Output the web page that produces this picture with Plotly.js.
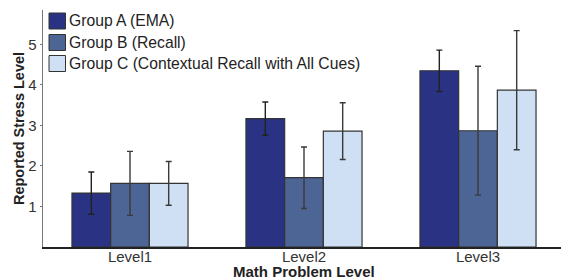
<!DOCTYPE html>
<html>
<head>
<meta charset="utf-8">
<script src="https://cdn.plot.ly/plotly-3.0.1.min.js"></script>
<style>html,body{margin:0;padding:0;background:#fff;}#chart{width:561px;height:280px;}</style>
</head>
<body>
<div id="chart"></div>
<script>
var categories = ['Level1', 'Level2', 'Level3'];
var groupNames = ['Group A (EMA)', 'Group B (Recall)', 'Group C (Contextual Recall with All Cues)'];
var groupA = [1.33, 3.17, 4.35];
var groupB = [1.57, 1.71, 2.87];
var groupC = [1.57, 2.86, 3.87];
var errA = [0.52, 0.41, 0.51];
var errB = [0.79, 0.76, 1.59];
var errC = [0.54, 0.70, 1.47];
var colors = ['#2a3383', '#4c6595', '#cfe0f4'];
var errColors = ['#222222', '#3a3a3a', '#3a3a3a'];

var W = 561, H = 280;
var M = {l: 43, r: 0, t: 10, b: 33};
var pw = W - M.l - M.r, ph = H - M.t - M.b;
function px2x(px) { return (px - M.l) / pw; }
function py2y(py) { return (H - M.b - py) / ph; }

var vals = [groupA, groupB, groupC];
var errs = [errA, errB, errC];
var traces = vals.map(function (v, i) {
  return {
    type: 'bar',
    name: groupNames[i],
    x: categories,
    y: v,
    showlegend: false,
    marker: {color: colors[i], line: {color: '#333333', width: 1.2}},
    error_y: {type: 'data', array: errs[i], visible: true, color: errColors[i], thickness: 1.4, width: 3}
  };
});

// custom legend (larger swatches, tight text gap like the reference)
var legendRowY = [21, 42.5, 63.5];
var shapes = [], annotations = [];
groupNames.forEach(function (name, i) {
  var cy = legendRowY[i];
  shapes.push({
    type: 'rect', xref: 'paper', yref: 'paper',
    x0: px2x(49), x1: px2x(65.5), y0: py2y(cy + 8), y1: py2y(cy - 8),
    fillcolor: colors[i], line: {color: '#333333', width: 1}
  });
  annotations.push({
    xref: 'paper', yref: 'paper', x: px2x(66.5), y: py2y(cy),
    xanchor: 'left', yanchor: 'middle', showarrow: false,
    text: name, font: {size: 15.7, color: '#222222'}
  });
});

// x-axis title placed as a paper annotation at the very bottom
annotations.push({
  xref: 'paper', yref: 'paper', x: px2x(304), y: py2y(281),
  xanchor: 'center', yanchor: 'bottom', showarrow: false,
  text: '<b>Math Problem Level</b>', font: {size: 15, color: '#222222'},
  borderpad: 0
});

var layout = {
  width: W, height: H,
  margin: M,
  paper_bgcolor: '#ffffff', plot_bgcolor: '#ffffff',
  font: {family: 'Liberation Sans, Arial, sans-serif', size: 14, color: '#333333'},
  barmode: 'group', bargap: 0.333, bargroupgap: 0,
  showlegend: false,
  shapes: shapes,
  annotations: annotations,
  xaxis: {
    range: [-0.5, 2.477], showline: true, linecolor: '#222222', linewidth: 1.5,
    ticks: '', showgrid: false, zeroline: false, automargin: false,
    tickfont: {size: 15, color: '#333333'}, ticklabelstandoff: -5
  },
  yaxis: {
    range: [0, 5.85], showline: true, linecolor: '#777777', linewidth: 1.5,
    tickvals: [1, 2, 3, 4, 5], ticks: 'outside', ticklen: 2, tickcolor: '#777777',
    showgrid: false, zeroline: false, automargin: false,
    tickfont: {size: 15, color: '#333333'},
    title: {text: '<b>Reported Stress Level</b>', font: {size: 14.5, color: '#222222'}, standoff: 0}
  }
};

Plotly.newPlot('chart', traces, layout, {displayModeBar: false, staticPlot: true});
</script>
</body>
</html>
